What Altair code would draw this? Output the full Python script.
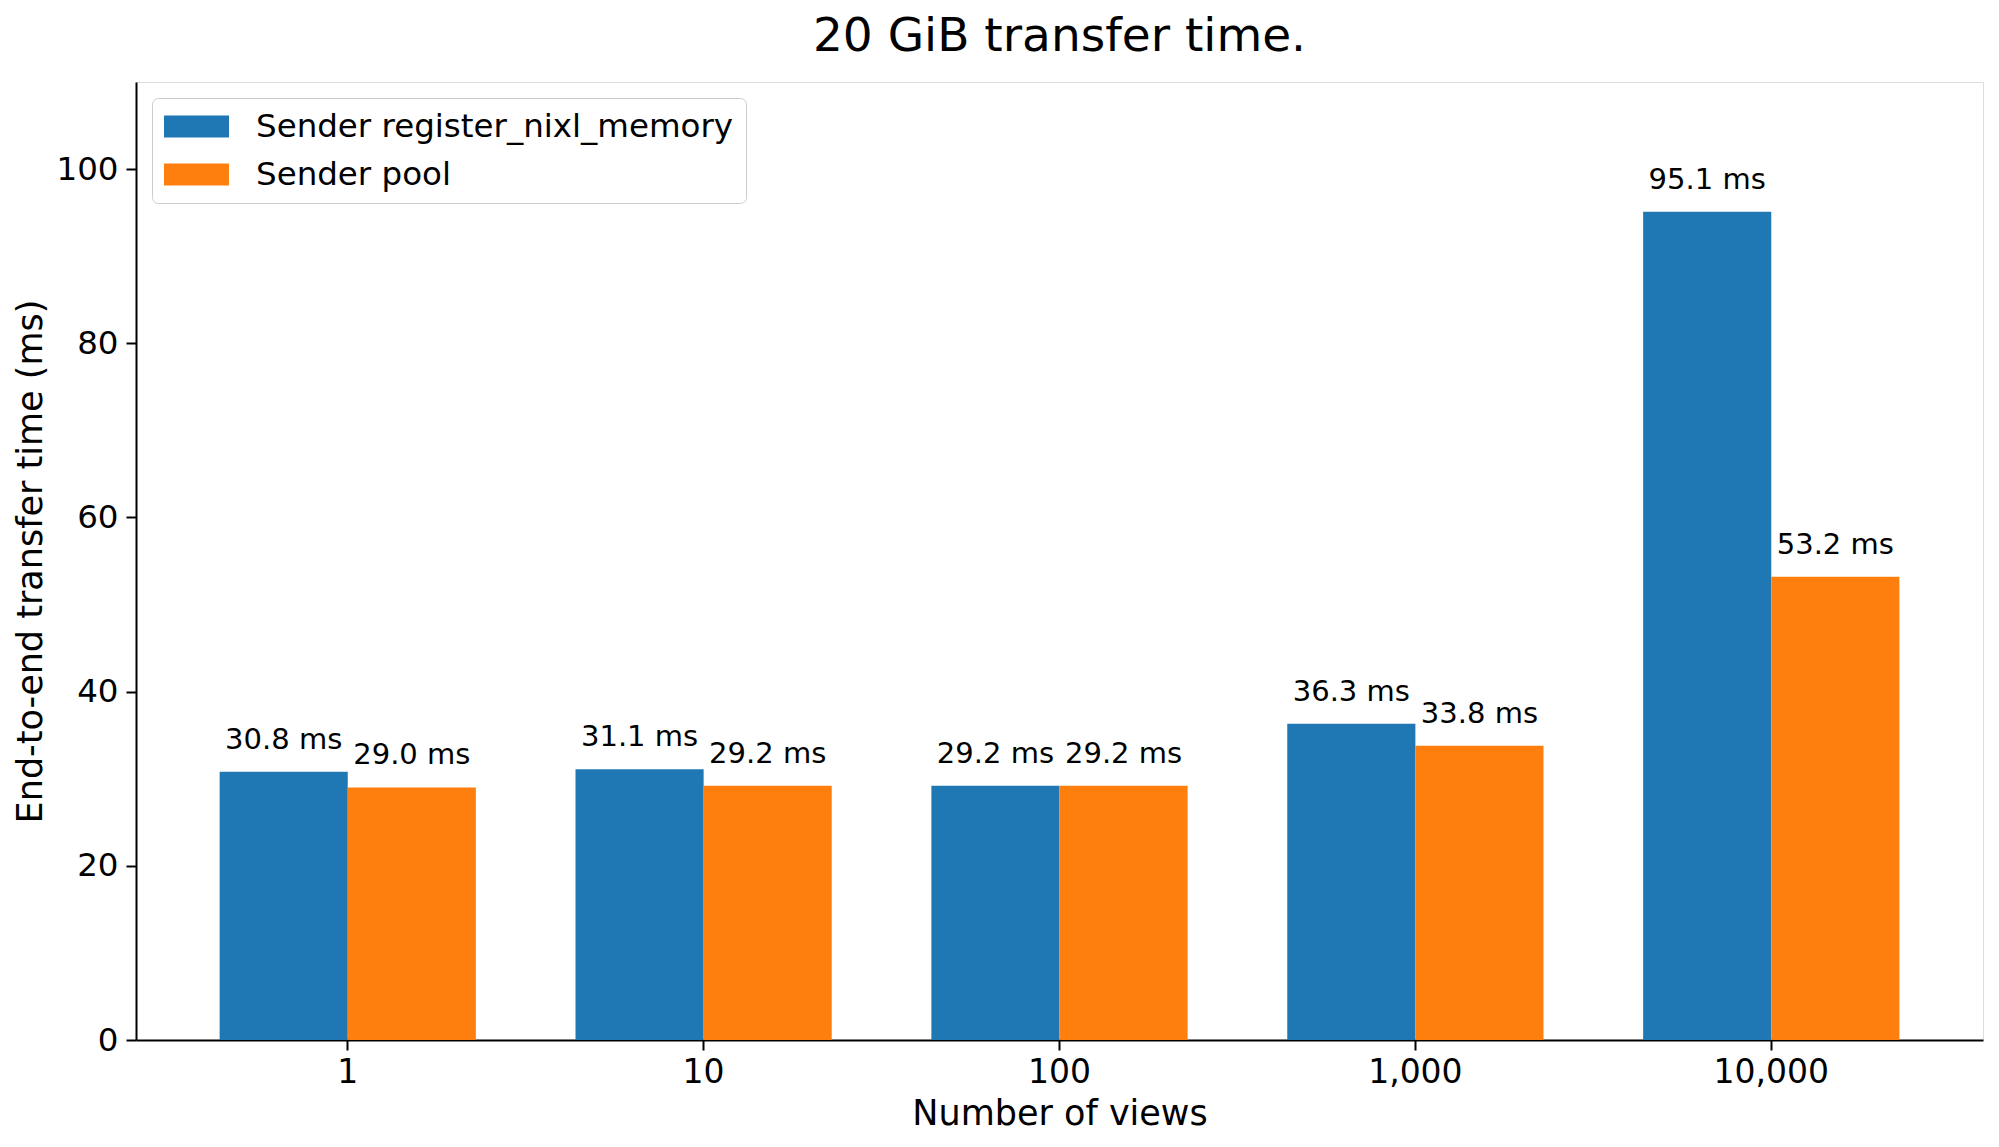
import altair as alt
import pandas as pd

categories = ["1", "10", "100", "1,000", "10,000"]
series_names = ["Sender register_nixl_memory", "Sender pool"]
register_vals = [30.8, 31.1, 29.2, 36.3, 95.1]
pool_vals = [29.0, 29.2, 29.2, 33.8, 53.2]
y_ticks = [0, 20, 40, 60, 80, 100]
colors = ["#1f77b4", "#ff7f0e"]

rows = []
for c, a, b in zip(categories, register_vals, pool_vals):
    rows.append({"views": c, "series": series_names[0], "value": a, "label": f"{a:.1f} ms"})
    rows.append({"views": c, "series": series_names[1], "value": b, "label": f"{b:.1f} ms"})
df = pd.DataFrame(rows)

FONT = "DejaVu Sans"

x_enc = alt.X(
    "views:N",
    sort=categories,
    scale=alt.Scale(paddingInner=0.28, paddingOuter=0.235),
    axis=alt.Axis(
        title="Number of views",
        labelAngle=0,
        labelFontSize=33,
        labelFont=FONT,
        labelColor="black",
        labelPadding=6,
        tickSize=10,
        tickWidth=2,
        tickColor="black",
        domainColor="black",
        domainWidth=2,
        titleFontSize=35,
        titleFont=FONT,
        titleFontWeight="normal",
        titleColor="black",
        titleBaseline="alphabetic",
        titleY=84,
    ),
)
xoff = alt.XOffset("series:N", sort=series_names, scale=alt.Scale(paddingInner=0, paddingOuter=0))
y_enc = alt.Y(
    "value:Q",
    scale=alt.Scale(domain=[0, 110], nice=False, zero=True),
    axis=alt.Axis(
        title="End-to-end transfer time (ms)",
        values=y_ticks,
        grid=False,
        labelFontSize=32.5,
        labelFont=FONT,
        labelColor="black",
        labelPadding=8,
        tickSize=10,
        tickWidth=2,
        tickColor="black",
        domainColor="black",
        domainWidth=2,
        titleFontSize=35,
        titleFont=FONT,
        titleFontWeight="normal",
        titleColor="black",
        titleAngle=270,
        titleAlign="center",
        titleBaseline="middle",
        titleX=-106,
        titleY=479,
    ),
)
color_enc = alt.Color(
    "series:N",
    sort=series_names,
    scale=alt.Scale(domain=series_names, range=colors),
    title=None,
    legend=alt.Legend(
        orient="none",
        legendX=16,
        legendY=16,
        direction="vertical",
        symbolType="M-1,-0.338H1V0.338H-1Z",
        symbolSize=4225,
        symbolStrokeWidth=0,
        symbolOpacity=1,
        clipHeight=33,
        labelFontSize=32.5,
        labelFont=FONT,
        labelColor="black",
        labelOffset=27,
        labelLimit=1000,
        rowPadding=15,
        padding=12,
        fillColor="white",
        strokeColor="#cccccc",
        cornerRadius=6,
    ),
)

bars = alt.Chart(df).mark_bar().encode(
    x=x_enc, xOffset=xoff, y=y_enc, color=color_enc
)

labels = alt.Chart(df).mark_text(
    fontSize=29, font=FONT, color="black", baseline="alphabetic", align="center", dy=-23
).encode(
    x=alt.X("views:N", sort=categories),
    xOffset=alt.XOffset("series:N", sort=series_names),
    y="value:Q",
    text="label:N",
)

chart = (
    alt.layer(bars, labels)
    .properties(
        width=1847,
        height=958,
        title=alt.TitleParams(
            "20 GiB transfer time.",
            fontSize=47,
            font=FONT,
            fontWeight="normal",
            color="black",
            anchor="middle",
            baseline="alphabetic",
            offset=-16,
        ),
        autosize=alt.AutoSizeParams(type="none"),
        padding={"left": 128, "top": 74, "right": 8, "bottom": 99},
    )
    .configure_view(stroke="black", strokeWidth=2)
    .configure(background="white")
)

chart.save("out.html", embed_options={"renderer": "svg", "actions": False})
